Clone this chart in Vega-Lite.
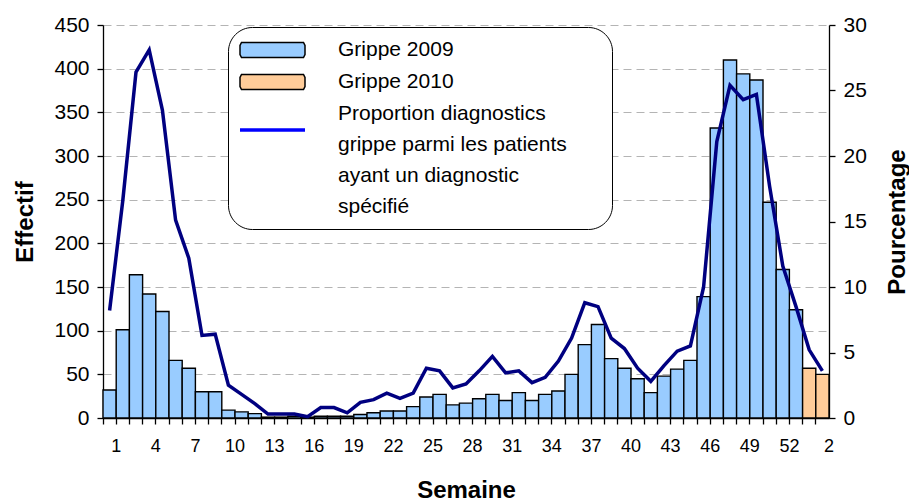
{
  "$schema": "https://vega.github.io/schema/vega-lite/v6.json",
  "width": 726,
  "height": 393,
  "autosize": {"type": "none"},
  "padding": {"left": 103, "top": 25, "right": 80, "bottom": 83},
  "config": {
    "view": {"stroke": null},
    "font": "Liberation Sans",
    "style": {"guide-label": {"lineHeight": 31}},
    "axis": {"labelFont": "Liberation Sans", "titleFont": "Liberation Sans", "labelColor": "black", "titleColor": "black", "domainColor": "black", "tickColor": "black", "domainWidth": 1.3, "tickWidth": 1.3}
  },
  "data": {
    "values": [
      {"rang": 1, "annee": 2009, "semaine": 1, "serie": "Grippe 2009", "cas": 32, "pct": 8.2},
      {"rang": 2, "annee": 2009, "semaine": 2, "serie": "Grippe 2009", "cas": 101, "pct": 16.6},
      {"rang": 3, "annee": 2009, "semaine": 3, "serie": "Grippe 2009", "cas": 164, "pct": 26.4},
      {"rang": 4, "annee": 2009, "semaine": 4, "serie": "Grippe 2009", "cas": 142, "pct": 28.1},
      {"rang": 5, "annee": 2009, "semaine": 5, "serie": "Grippe 2009", "cas": 122, "pct": 23.5},
      {"rang": 6, "annee": 2009, "semaine": 6, "serie": "Grippe 2009", "cas": 66, "pct": 15.1},
      {"rang": 7, "annee": 2009, "semaine": 7, "serie": "Grippe 2009", "cas": 57, "pct": 12.2},
      {"rang": 8, "annee": 2009, "semaine": 8, "serie": "Grippe 2009", "cas": 30, "pct": 6.3},
      {"rang": 9, "annee": 2009, "semaine": 9, "serie": "Grippe 2009", "cas": 30, "pct": 6.4},
      {"rang": 10, "annee": 2009, "semaine": 10, "serie": "Grippe 2009", "cas": 9, "pct": 2.5},
      {"rang": 11, "annee": 2009, "semaine": 11, "serie": "Grippe 2009", "cas": 7, "pct": 1.8},
      {"rang": 12, "annee": 2009, "semaine": 12, "serie": "Grippe 2009", "cas": 5, "pct": 1.1},
      {"rang": 13, "annee": 2009, "semaine": 13, "serie": "Grippe 2009", "cas": 1, "pct": 0.3},
      {"rang": 14, "annee": 2009, "semaine": 14, "serie": "Grippe 2009", "cas": 1, "pct": 0.3},
      {"rang": 15, "annee": 2009, "semaine": 15, "serie": "Grippe 2009", "cas": 2, "pct": 0.3},
      {"rang": 16, "annee": 2009, "semaine": 16, "serie": "Grippe 2009", "cas": 1, "pct": 0.1},
      {"rang": 17, "annee": 2009, "semaine": 17, "serie": "Grippe 2009", "cas": 2, "pct": 0.8},
      {"rang": 18, "annee": 2009, "semaine": 18, "serie": "Grippe 2009", "cas": 2, "pct": 0.8},
      {"rang": 19, "annee": 2009, "semaine": 19, "serie": "Grippe 2009", "cas": 2, "pct": 0.4},
      {"rang": 20, "annee": 2009, "semaine": 20, "serie": "Grippe 2009", "cas": 4, "pct": 1.2},
      {"rang": 21, "annee": 2009, "semaine": 21, "serie": "Grippe 2009", "cas": 6, "pct": 1.4},
      {"rang": 22, "annee": 2009, "semaine": 22, "serie": "Grippe 2009", "cas": 8, "pct": 1.9},
      {"rang": 23, "annee": 2009, "semaine": 23, "serie": "Grippe 2009", "cas": 8, "pct": 1.5},
      {"rang": 24, "annee": 2009, "semaine": 24, "serie": "Grippe 2009", "cas": 13, "pct": 1.9},
      {"rang": 25, "annee": 2009, "semaine": 25, "serie": "Grippe 2009", "cas": 24, "pct": 3.8},
      {"rang": 26, "annee": 2009, "semaine": 26, "serie": "Grippe 2009", "cas": 27, "pct": 3.6},
      {"rang": 27, "annee": 2009, "semaine": 27, "serie": "Grippe 2009", "cas": 15, "pct": 2.3},
      {"rang": 28, "annee": 2009, "semaine": 28, "serie": "Grippe 2009", "cas": 17, "pct": 2.6},
      {"rang": 29, "annee": 2009, "semaine": 29, "serie": "Grippe 2009", "cas": 22, "pct": 3.6},
      {"rang": 30, "annee": 2009, "semaine": 30, "serie": "Grippe 2009", "cas": 27, "pct": 4.7},
      {"rang": 31, "annee": 2009, "semaine": 31, "serie": "Grippe 2009", "cas": 20, "pct": 3.45},
      {"rang": 32, "annee": 2009, "semaine": 32, "serie": "Grippe 2009", "cas": 29, "pct": 3.6},
      {"rang": 33, "annee": 2009, "semaine": 33, "serie": "Grippe 2009", "cas": 20, "pct": 2.7},
      {"rang": 34, "annee": 2009, "semaine": 34, "serie": "Grippe 2009", "cas": 27, "pct": 3.1},
      {"rang": 35, "annee": 2009, "semaine": 35, "serie": "Grippe 2009", "cas": 31, "pct": 4.35},
      {"rang": 36, "annee": 2009, "semaine": 36, "serie": "Grippe 2009", "cas": 50, "pct": 6.1},
      {"rang": 37, "annee": 2009, "semaine": 37, "serie": "Grippe 2009", "cas": 84, "pct": 8.8},
      {"rang": 38, "annee": 2009, "semaine": 38, "serie": "Grippe 2009", "cas": 107, "pct": 8.5},
      {"rang": 39, "annee": 2009, "semaine": 39, "serie": "Grippe 2009", "cas": 68, "pct": 6.1},
      {"rang": 40, "annee": 2009, "semaine": 40, "serie": "Grippe 2009", "cas": 57, "pct": 5.3},
      {"rang": 41, "annee": 2009, "semaine": 41, "serie": "Grippe 2009", "cas": 45, "pct": 3.8},
      {"rang": 42, "annee": 2009, "semaine": 42, "serie": "Grippe 2009", "cas": 29, "pct": 2.8},
      {"rang": 43, "annee": 2009, "semaine": 43, "serie": "Grippe 2009", "cas": 48, "pct": 4.0},
      {"rang": 44, "annee": 2009, "semaine": 44, "serie": "Grippe 2009", "cas": 56, "pct": 5.1},
      {"rang": 45, "annee": 2009, "semaine": 45, "serie": "Grippe 2009", "cas": 66, "pct": 5.5},
      {"rang": 46, "annee": 2009, "semaine": 46, "serie": "Grippe 2009", "cas": 139, "pct": 10.0},
      {"rang": 47, "annee": 2009, "semaine": 47, "serie": "Grippe 2009", "cas": 332, "pct": 21.1},
      {"rang": 48, "annee": 2009, "semaine": 48, "serie": "Grippe 2009", "cas": 410, "pct": 25.4},
      {"rang": 49, "annee": 2009, "semaine": 49, "serie": "Grippe 2009", "cas": 394, "pct": 24.3},
      {"rang": 50, "annee": 2009, "semaine": 50, "serie": "Grippe 2009", "cas": 387, "pct": 24.7},
      {"rang": 51, "annee": 2009, "semaine": 51, "serie": "Grippe 2009", "cas": 247, "pct": 17.7},
      {"rang": 52, "annee": 2009, "semaine": 52, "serie": "Grippe 2009", "cas": 170, "pct": 11.6},
      {"rang": 53, "annee": 2009, "semaine": 53, "serie": "Grippe 2009", "cas": 124, "pct": 8.5},
      {"rang": 54, "annee": 2010, "semaine": 1, "serie": "Grippe 2010", "cas": 57, "pct": 5.2},
      {"rang": 55, "annee": 2010, "semaine": 2, "serie": "Grippe 2010", "cas": 50, "pct": 3.6}
    ]
  },
  "encoding": {
    "x": {
      "field": "rang",
      "type": "ordinal",
      "scale": {"paddingInner": 0, "paddingOuter": 0},
      "axis": {
        "title": "Semaine",
        "bandPosition": 0,
        "labelOffset": 6.6,
        "labelAngle": 0,
        "labelOverlap": false,
        "labelExpr": "(datum.value - 1) % 3 == 0 ? (datum.value <= 53 ? datum.value : datum.value - 53) : ''",
        "labelFontSize": 18,
        "labelPadding": 13,
        "tickSize": 6,
        "titleFontSize": 24,
        "titleFontWeight": "bold",
        "titlePadding": 23,
        "grid": false
      }
    }
  },
  "layer": [
    {
      "mark": {"type": "bar", "stroke": "black", "strokeWidth": 1.4},
      "encoding": {
        "y": {
          "field": "cas",
          "type": "quantitative",
          "scale": {"domain": [0, 450]},
          "axis": {
            "title": "Effectif",
            "values": [0, 50, 100, 150, 200, 250, 300, 350, 400, 450],
            "grid": true,
            "gridDash": [8, 5],
            "gridColor": "#b4b4b4",
            "tickSize": 6,
            "labelPadding": 8,
            "labelFontSize": 21,
            "titleFontSize": 24,
            "titleFontWeight": "bold",
            "titlePadding": 16
          }
        },
        "color": {
          "field": "serie",
          "type": "nominal",
          "scale": {
            "domain": ["Grippe 2009", "Grippe 2010", "Proportion diagnostics grippe parmi les patients ayant un diagnostic spécifié"],
            "range": ["#99CCFF", "#FFCC99", "#0000FF"]
          },
          "legend": {
            "title": " ",
            "titleOrient": "right",
            "titlePadding": 33,
            "titleFontSize": 10,
            "orient": "none",
            "legendX": 125,
            "legendY": 2,
            "strokeColor": "black",
            "fillColor": "white",
            "cornerRadius": 24,
            "padding": 12,
            "labelFont": "Liberation Sans",
            "labelFontSize": 21,
            "labelColor": "black",
            "labelLimit": 500,
            "symbolSize": 400,
            "symbolStrokeWidth": 1.5,
            "symbolOpacity": 1,
            "symbolOffset": 21.5,
            "symbolType": {"expr": "indexof(datum.value, 'Proportion') == 0 ? 'M-3.25,1.43H3.25V1.77H-3.25Z' : 'M-3.1,-0.75H3.1L3.25,-0.45V0.45L3.1,0.75H-3.1L-3.25,0.45V-0.45Z'"},
            "symbolStrokeColor": {"expr": "indexof(datum.value, 'Proportion') == 0 ? 'transparent' : 'black'"},
            "labelOffset": 54.5,
            "rowPadding": 10,
            "labelExpr": "indexof(datum.value, 'Proportion') == 0 ? ['Proportion diagnostics', 'grippe parmi les patients', 'ayant un diagnostic', 'spécifié'] : datum.label"
          }
        }
      }
    },
    {
      "mark": {"type": "line", "strokeWidth": 3.5, "color": "#000080"},
      "encoding": {
        "y": {
          "field": "pct",
          "type": "quantitative",
          "scale": {"domain": [0, 30]},
          "axis": {
            "orient": "right",
            "title": "Pourcentage",
            "values": [0, 5, 10, 15, 20, 25, 30],
            "grid": false,
            "tickSize": 6,
            "labelPadding": 8,
            "labelFontSize": 21,
            "titleFontSize": 24,
            "titleFontWeight": "bold",
            "titleAngle": 270,
            "titleBaseline": "top",
            "titlePadding": 19
          }
        }
      }
    }
  ],
  "resolve": {"scale": {"y": "independent"}}
}
